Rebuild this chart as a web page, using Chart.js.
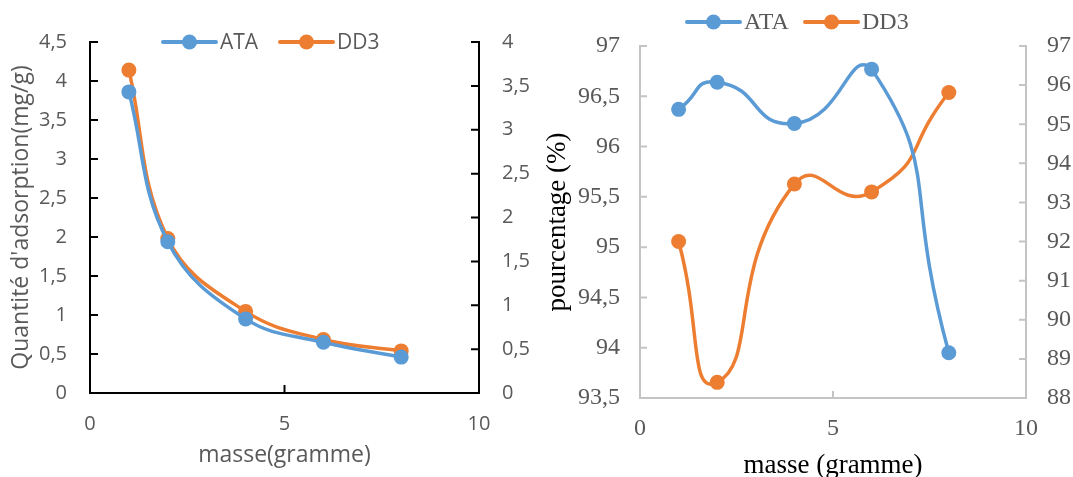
<!DOCTYPE html>
<html>
<head>
<meta charset="utf-8">
<script src="https://cdn.jsdelivr.net/npm/chart.js@4"></script>
<style>
  html, body { margin: 0; padding: 0; background: #fff; }
  .wrap { position: relative; width: 1073px; height: 477px; }
  #chartLeft { position: absolute; left: 0; top: 0; }
  #chartRight { position: absolute; left: 536px; top: 0; }
</style>
</head>
<body>
<div class="wrap">
  <canvas id="chartLeft" width="536" height="477"></canvas>
  <canvas id="chartRight" width="537" height="477"></canvas>
</div>
<script>
const masse = [1, 2, 4, 6, 8];
const seriesNames = ["ATA", "DD3"];

// adsorption capacity (mg/g)
const qATA = [3.86, 1.94, 0.95, 0.65, 0.46];
const qDD3 = [3.68, 1.76, 0.93, 0.61, 0.48];

// removal percentage (%)
const pATA = [96.37, 96.64, 96.23, 96.77, 93.95];
const pDD3 = [92.0, 88.4, 93.47, 93.27, 95.81];

const blue = "#5b9bd5";
const orange = "#ed7d31";

const comma = v => String(v).replace(".", ",");
const pts = ys => masse.map((x, i) => ({ x: x, y: ys[i] }));

// tick marks drawn inside the plot area
const innerTicks = {
  id: "innerTicks",
  beforeDatasetsDraw(chart, args, opts) {
    const ctx = chart.ctx;
    ctx.save();
    ctx.strokeStyle = opts.color;
    ctx.lineWidth = opts.width;
    ctx.beginPath();
    Object.values(chart.scales).forEach(scale => {
      scale.ticks.forEach((t, i) => {
        const p = scale.getPixelForTick(i);
        if (scale.position === "bottom") {
          ctx.moveTo(p, scale.top);
          ctx.lineTo(p, scale.top - opts.length);
        } else if (scale.position === "left") {
          ctx.moveTo(scale.right, p);
          ctx.lineTo(scale.right + opts.length, p);
        } else {
          ctx.moveTo(scale.left, p);
          ctx.lineTo(scale.left - opts.length, p);
        }
      });
    });
    ctx.stroke();
    ctx.restore();
  }
};

// legend with line + dot symbols
const lineLegend = {
  id: "lineLegend",
  afterDraw(chart, args, opts) {
    const ctx = chart.ctx;
    ctx.save();
    ctx.font = opts.font;
    ctx.textBaseline = "middle";
    ctx.textAlign = "left";
    chart.data.datasets.forEach((ds, i) => {
      const x = opts.x[i];
      const y = opts.y;
      ctx.strokeStyle = ds.borderColor;
      ctx.lineWidth = 4;
      ctx.lineCap = "round";
      ctx.beginPath();
      ctx.moveTo(x, y);
      ctx.lineTo(x + 53, y);
      ctx.stroke();
      ctx.fillStyle = ds.borderColor;
      ctx.beginPath();
      ctx.arc(x + 26.5, y, 7.5, 0, Math.PI * 2);
      ctx.fill();
      ctx.fillStyle = opts.color;
      ctx.fillText(ds.label, x + 57, y + 1);
    });
    ctx.restore();
  }
};

function dataset(label, ys, color, axis, tension) {
  return {
    label: label,
    data: pts(ys),
    yAxisID: axis,
    borderColor: color,
    backgroundColor: color,
    borderWidth: 3.5,
    pointRadius: 7.5,
    pointBorderWidth: 0,
    tension: tension,
    clip: false
  };
}

function fixedWidth(w) {
  return scale => { scale.width = w; };
}
function fixedHeight(h) {
  return scale => { scale.height = h; };
}

const grey = "#595959";
const sansTick = { family: "Open Sans", size: 20 };
const sansTitle = { family: "Open Sans", size: 23, lineHeight: 1 };
const noGrid = { display: false, drawTicks: false };

new Chart(document.getElementById("chartLeft"), {
  type: "line",
  data: {
    datasets: [
      dataset(seriesNames[0], qATA, blue, "y", 0.4),
      dataset(seriesNames[1], qDD3, orange, "y1", 0.4)
    ]
  },
  plugins: [innerTicks, lineLegend],
  options: {
    responsive: false,
    animation: false,
    layout: { padding: { top: 42, left: 0, right: 0, bottom: 0 } },
    plugins: {
      legend: { display: false },
      tooltip: { enabled: false },
      innerTicks: { color: "#000", width: 2, length: 8 },
      lineLegend: { x: [163, 280], y: 42, font: "21px 'Open Sans'", color: grey }
    },
    scales: {
      x: {
        type: "linear",
        position: "bottom",
        min: 0,
        max: 10,
        afterFit: fixedHeight(84),
        ticks: { stepSize: 5, color: grey, font: sansTick, padding: 19, callback: comma },
        grid: noGrid,
        border: { display: true, color: "#000", width: 2 },
        title: {
          display: true,
          text: "masse(gramme)",
          color: grey,
          font: sansTitle,
          padding: { top: 0, bottom: 10 }
        }
      },
      y: {
        position: "left",
        min: 0,
        max: 4.5,
        afterFit: fixedWidth(90),
        ticks: { stepSize: 0.5, color: grey, font: sansTick, padding: 23, callback: comma },
        grid: noGrid,
        border: { display: true, color: "#000", width: 2 },
        title: {
          display: true,
          text: "Quantité d'adsorption(mg/g)",
          color: grey,
          font: sansTitle,
          padding: { top: 10, bottom: 0 }
        }
      },
      y1: {
        position: "right",
        min: 0,
        max: 4,
        afterFit: fixedWidth(57),
        ticks: { stepSize: 0.5, color: grey, font: sansTick, padding: 23, callback: comma },
        grid: noGrid,
        border: { display: true, color: "#000", width: 2 }
      }
    }
  }
});

const serifTick = { family: "Liberation Serif", size: 24 };
const serifTitle = { family: "Liberation Serif", size: 27, lineHeight: 0.8 };
const axisGrey = "#c4c4c4";

new Chart(document.getElementById("chartRight"), {
  type: "line",
  data: {
    datasets: [
      dataset(seriesNames[0], pATA, blue, "y", 0.6),
      dataset(seriesNames[1], pDD3, orange, "y1", 0.6)
    ]
  },
  plugins: [innerTicks, lineLegend],
  options: {
    responsive: false,
    animation: false,
    layout: { padding: { top: 46, left: 0, right: 0, bottom: 0 } },
    plugins: {
      legend: { display: false },
      tooltip: { enabled: false },
      innerTicks: { color: axisGrey, width: 2, length: 7 },
      lineLegend: { x: [151, 269], y: 22, font: "24px 'Liberation Serif'", color: grey }
    },
    scales: {
      x: {
        type: "linear",
        position: "bottom",
        min: 0,
        max: 10,
        afterFit: fixedHeight(79),
        ticks: { stepSize: 5, color: grey, font: serifTick, padding: 16, callback: comma },
        grid: noGrid,
        border: { display: true, color: axisGrey, width: 2 },
        title: {
          display: true,
          text: "masse (gramme)",
          color: "#000",
          font: serifTitle,
          padding: { top: 0, bottom: 0 }
        }
      },
      y: {
        position: "left",
        min: 93.5,
        max: 97,
        afterFit: fixedWidth(104),
        ticks: { stepSize: 0.5, color: grey, font: serifTick, padding: 20, callback: comma },
        grid: noGrid,
        border: { display: true, color: axisGrey, width: 2 },
        title: {
          display: true,
          text: "pourcentage (%)",
          color: "#000",
          font: serifTitle,
          padding: { top: 11, bottom: 0 }
        }
      },
      y1: {
        position: "right",
        min: 88,
        max: 97,
        afterFit: fixedWidth(47),
        ticks: { stepSize: 1, color: grey, font: serifTick, padding: 21, callback: comma },
        grid: noGrid,
        border: { display: true, color: axisGrey, width: 2 }
      }
    }
  }
});
</script>
</body>
</html>
